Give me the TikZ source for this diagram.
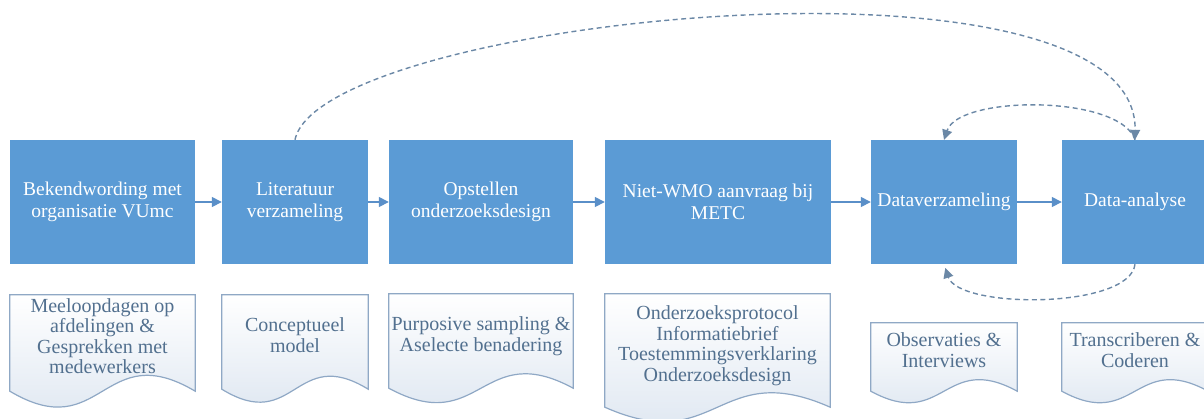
\documentclass[tikz,border=0pt]{standalone}
\usepackage{fontspec}
\setmainfont{Liberation Serif}
\usetikzlibrary{calc,
arrows.meta,
backgrounds,
positioning}

\definecolor{faseblauw}{HTML}{5B9BD5}
\definecolor{pijlblauw}{HTML}{5A8FC8}
\definecolor{stippelgrijs}{HTML}{6B88A6}
\definecolor{docrand}{HTML}{8FA8C5}
\definecolor{doctekst}{HTML}{52708F}
\definecolor{docvul}{HTML}{D9E3EF}

\newcommand{\docvorm}[2]{%
  \begin{scope}[on background layer]
    \draw [doc line] (#1.south west) -- (#1.north west) -- (#1.north east)
      -- (#1.south east)
      .. controls ($(#1.south)+(0,-#2)$) and ($(#1.south)+(0,#2)$) .. (#1.south west)
      -- cycle;
  \end{scope}
}

\begin{document}
\begin{tikzpicture} [x=1pt, y=-1pt,
    >={Triangle[length=10pt, width=10pt]},
    main node/.style={rectangle, fill = faseblauw, text = white,
        align=center, inner sep = 0pt, minimum height = 124pt,
        font={\fontsize{19.5}{22}\selectfont}},
    doc node/.style={rectangle, align=center, inner sep = 0pt,
        text depth = 14pt,
        text = doctekst, font={\fontsize{20}{20.5}\selectfont}},
    doc line/.style={draw = docrand, line width = 1.2pt,
        top color = white, bottom color = docvul},
    pijl/.style={->, draw = pijlblauw, line width = 1.5pt},
    stippel/.style={->, draw = stippelgrijs, line width = 1.4pt,
        dash pattern = on 5pt off 3.5pt}
  ]

  \useasboundingbox (0, 0) rectangle (1204, 418);

  \node [main node,
    minimum width = 185pt
  ] (fase0) at (102.5, 202) {Bekendwording met\\organisatie VUmc};
  \node [main node,
    minimum width = 146pt
  ] (fase1) at (295, 202)   {Literatuur\\verzameling};
  \node [main node,
    minimum width = 184pt
  ] (fase2) at (481, 202)   {Opstellen\\onderzoeksdesign};
  \node [main node,
    minimum width = 226pt
  ] (fase3) at (718, 202)   {Niet-WMO aanvraag bij\\METC};
  \node [main node,
    minimum width = 146pt
  ] (fase4) at (944, 202)   {Dataverzameling};
  \node [main node,
    minimum width = 146pt
  ] (fase5) at (1135, 202)  {Data-analyse};

  \draw [pijl] (fase0) -- (fase1);
  \draw [pijl] (fase1) -- (fase2);
  \draw [pijl] (fase2) -- (fase3);
  \draw [pijl] (fase3) -- (fase4);
  \draw [pijl] (fase4) -- (fase5);

  \draw [stippel] (fase1.north) .. controls +(25, -122) and +(3, -205) .. (fase5.north);
  \draw [stippel] (fase5.north) .. controls +(-15, -45) and +(15, -45) .. (fase4.north);
  \draw [stippel, shorten > = 4pt] (fase5.south) .. controls +(-5, 45) and +(15, 45) .. (fase4.south);

  \node [doc node,
    minimum width = 185pt,
    minimum height = 96pt
  ] (uitk0) at (102.5, 343) {Meeloopdagen op\\afdelingen \&\\Gesprekken met\\medewerkers};
  \node [doc node,
    minimum width = 146pt,
    minimum height = 94pt
  ] (uitk1) at (295, 342)   {Conceptueel\\model};
  \node [doc node,
    minimum width = 184pt,
    minimum height = 94pt
  ] (uitk2) at (481, 341)   {Purposive sampling \&\\Aselecte benadering};
  \node [doc node,
    minimum width = 225pt,
    minimum height = 113pt
  ] (uitk3) at (717.5, 350.5) {Onderzoeksprotocol\\Informatiebrief\\Toestemmingsverklaring\\Onderzoeksdesign};
  \node [doc node,
    minimum width = 146pt,
    minimum height = 68pt
  ] (uitk4) at (944, 357)   {Observaties \&\\Interviews};
  \node [doc node,
    minimum width = 146pt,
    minimum height = 68pt
  ] (uitk5) at (1135, 357)  {Transcriberen \&\\Coderen};

  \docvorm{uitk0}{55}
  \docvorm{uitk1}{45}
  \docvorm{uitk2}{50}
  \docvorm{uitk3}{50}
  \docvorm{uitk4}{40}
  \docvorm{uitk5}{40}

\end{tikzpicture}
\end{document}
